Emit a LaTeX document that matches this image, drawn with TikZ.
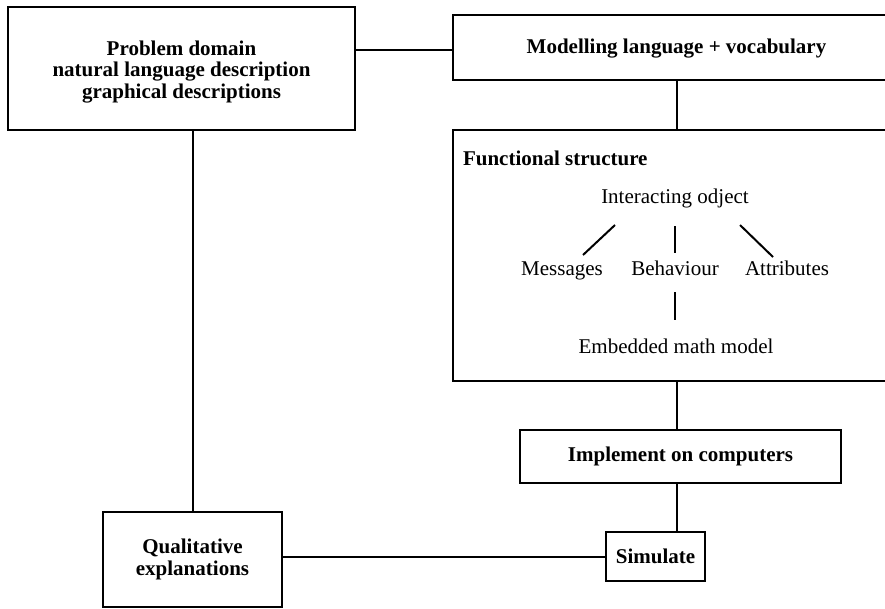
\documentclass[tikz,border=0pt]{standalone}
\usepackage{fontspec}
\setmainfont{Liberation Serif}
\begin{document}
\begin{tikzpicture}[x=1pt, y=-1pt, line width=2pt,
  box/.style={draw, rectangle, align=center, inner sep=0pt,
    font=\bfseries\fontsize{21}{21.5}\selectfont},
  boxtext/.style={align=center, inner sep=0pt,
    font=\bfseries\fontsize{21}{21.5}\selectfont},
  plain/.style={inner sep=0pt, text height=14pt, text depth=5pt,
    font=\fontsize{21}{21.5}\selectfont},
  head/.style={inner sep=0pt, anchor=west, font=\bfseries\fontsize{21}{21.5}\selectfont},
  link/.style={line width=2pt}]
\clip (0,0) rectangle (885,608);

% main boxes
\node[box, minimum width=347pt, minimum height=123pt] (prob) at (181.5,68.5) {};
\node[boxtext] (probtext) at (181.5,72) 
  {Problem domain\\natural language description\\graphical descriptions};
\node[box, minimum width=447pt, minimum height=65pt] (model) at (676.5,47.5) {};
\node[boxtext] (modeltext) at (676.5,49) {Modelling language + vocabulary};
\node[box, minimum width=447pt, minimum height=251pt] (func) at (676.5,255.5) {};
\node[box, minimum width=321pt, minimum height=53pt] (impl) at (680.5,456.5)
  {Implement on computers};
\node[box, minimum width=99pt, minimum height=49pt] (sim) at (655.5,556.5)
  {Simulate};
\node[box, minimum width=179pt, minimum height=95pt] (qual) at (192.5,559.5)
  {Qualitative\\explanations};

% contents of the functional structure box
\node[head] (fs) at (462,158) {Functional structure};
\node[plain] (io) at (675,199) {Interacting odject};
\node[plain] (msg) at (562,271) {Messages};
\node[plain] (beh) at (675,271) {Behaviour};
\node[plain] (att) at (787,271) {Attributes};
\node[plain] (emb) at (676,349) {Embedded math model};

\coordinate (ioL) at (615,225);
\coordinate (msgT) at (583,255);
\coordinate (ioM) at (675,226);
\coordinate (behT) at (675,253);
\coordinate (ioR) at (740,225);
\coordinate (attT) at (773,257);
\coordinate (behB) at (675,292);
\coordinate (embT) at (675,320);

\draw[link] (ioL) -- (msgT);
\draw[link] (ioM) -- (behT);
\draw[link] (ioR) -- (attT);
\draw[link] (behB) -- (embT);

% connectors between boxes
\coordinate (spine) at (677,0);
\draw[link] (model.west |- 0,50) -- (prob.east |- 0,50);
\draw[link] (spine |- model.south) -- (spine |- func.north);
\draw[link] (spine |- func.south) -- (spine |- impl.north);
\draw[link] (spine |- impl.south) -- (spine |- sim.north);
\draw[link] (qual.north) -- (qual.north |- prob.south);
\draw[link] (sim.west) -- (sim.west -| qual.east);
\end{tikzpicture}
\end{document}
